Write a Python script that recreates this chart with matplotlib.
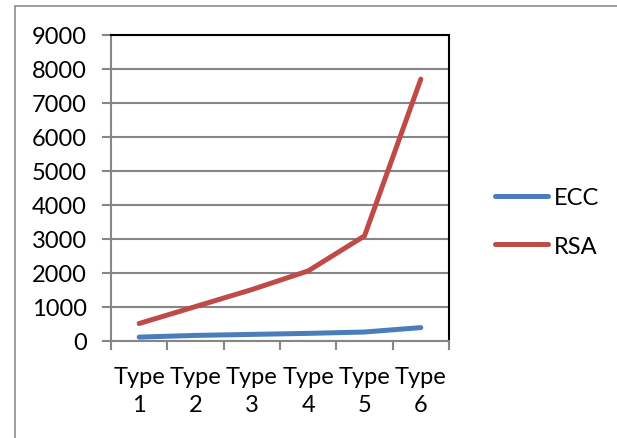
import numpy as np
import matplotlib.pyplot as plt
from matplotlib.patches import Rectangle

plt.rcParams['font.family'] = ['Lato', 'DejaVu Sans']

categories = ["Type\n1", "Type\n2", "Type\n3", "Type\n4", "Type\n5", "Type\n6"]
ecc = [100, 150, 180, 210, 250, 380]
rsa = [500, 1000, 1500, 2050, 3080, 7700]

blue = "#4A7EBB"
red = "#BE4B48"
grid_grey = "#868686"

fig = plt.figure(figsize=(6.17, 4.39), dpi=100)

# outer chart border
fig.patches.append(Rectangle((15 / 617, -0.1), 1.0, 1 - 7 / 439 + 0.1,
                             transform=fig.transFigure, fill=False,
                             edgecolor="#8c8c8c", linewidth=1.2))

ax = fig.add_axes([111 / 617, 1 - 341.5 / 439, 338 / 617, 305.5 / 439])

x = np.arange(len(categories))
ax.plot(x, ecc, color=blue, linewidth=3.6, solid_capstyle="round", label="ECC")
ax.plot(x, rsa, color=red, linewidth=3.6, solid_capstyle="round", label="RSA")

ax.set_xlim(-0.5, len(categories) - 0.5)
ax.set_ylim(0, 9000)
ax.set_yticks(range(0, 9001, 1000))
ax.yaxis.grid(True, color=grid_grey, linewidth=1.5)
ax.set_axisbelow(True)

# category labels sit between the boundary ticks
ax.set_xticks(np.arange(-0.5, len(categories), 1.0))
ax.set_xticklabels([])
ax.set_xticks(x, minor=True)
ax.set_xticklabels(categories, minor=True, fontsize=17, linespacing=1.45)
ax.tick_params(axis="x", which="minor", length=0, pad=18)
ax.tick_params(axis="x", which="major", length=6.5, width=1.5, color=grid_grey)
ax.tick_params(axis="y", length=6.5, width=1.5, color=grid_grey, labelsize=17, pad=11)

ax.spines["left"].set_color(grid_grey)
ax.spines["bottom"].set_color(grid_grey)
ax.spines["left"].set_linewidth(1.5)
ax.spines["bottom"].set_linewidth(1.5)
ax.spines["top"].set_color("black")
ax.spines["right"].set_color("black")
ax.spines["top"].set_linewidth(1.5)
ax.spines["right"].set_linewidth(1.5)

fig.legend(loc="center left", bbox_to_anchor=(474 / 617, 1 - 223 / 439),
           frameon=False, fontsize=17, handlelength=2.25, handletextpad=0.25,
           labelspacing=1.15)

fig.savefig("out.png", dpi=100)
